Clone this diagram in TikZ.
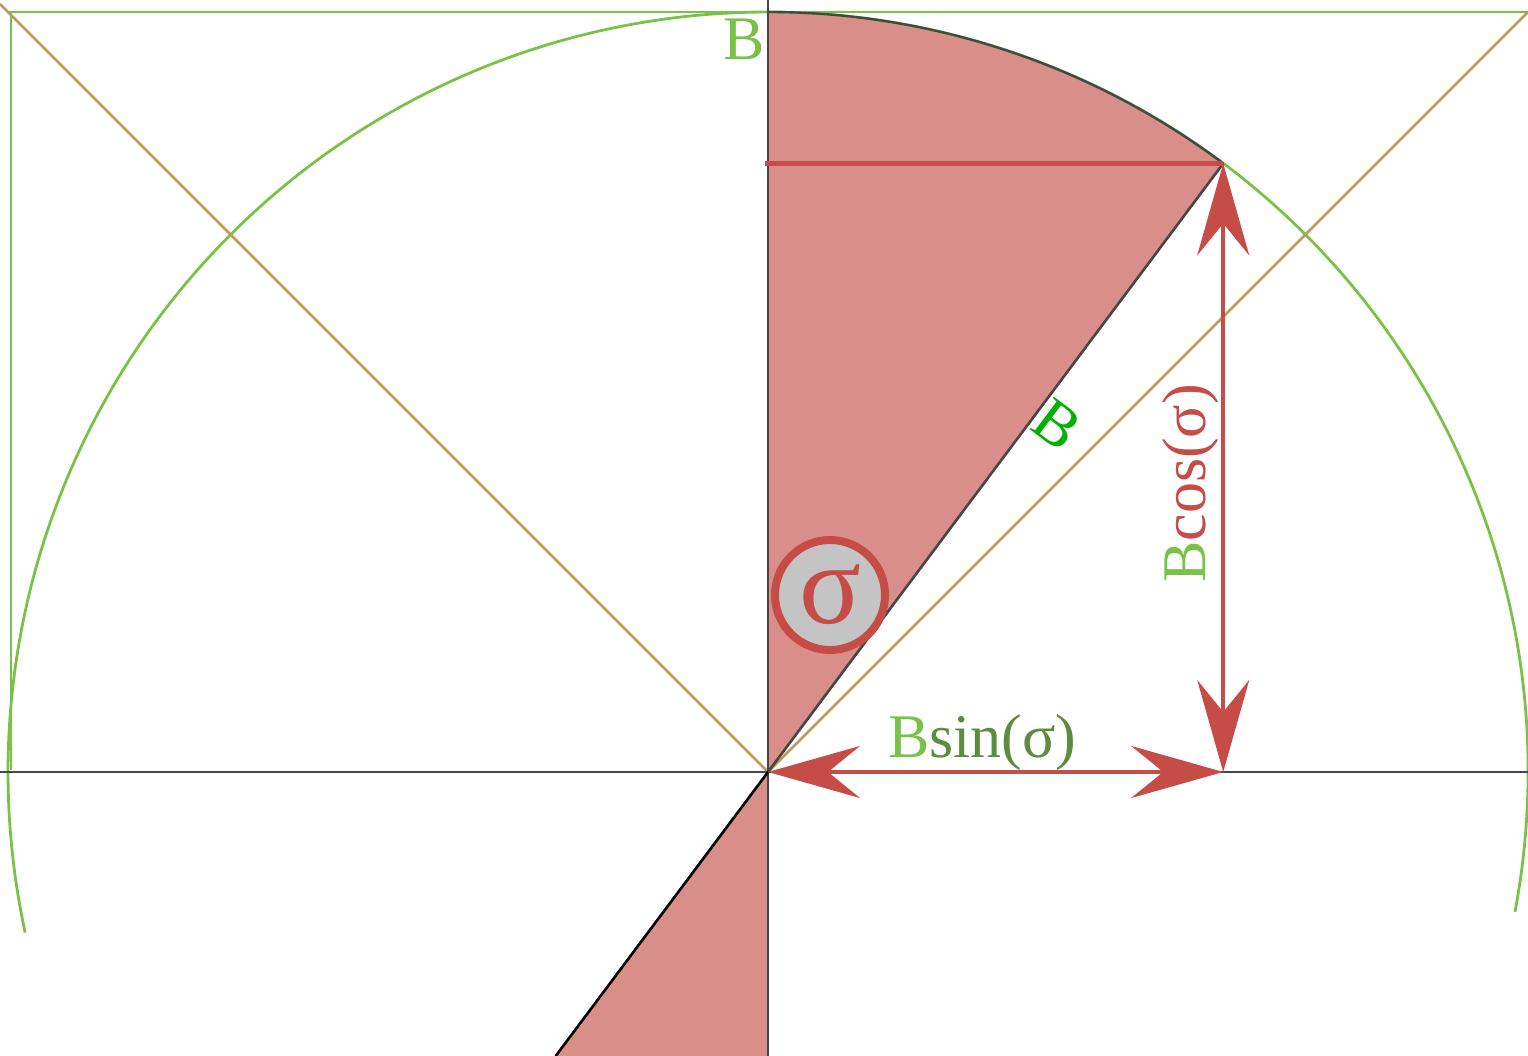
\documentclass[tikz,border=0pt]{standalone}
\usepackage{fontspec}
\setmainfont{Liberation Serif}
\usetikzlibrary{arrows.meta,calc}
\definecolor{sectorfill}{RGB}{217,142,138}
\definecolor{arrowred}{RGB}{198,77,71}
\definecolor{greenline}{RGB}{122,193,72}
\definecolor{tanline}{RGB}{186,156,92}
\definecolor{axisgray}{RGB}{70,70,70}
\definecolor{sgray}{RGB}{196,196,196}
\definecolor{brightgreen}{RGB}{0,178,0}
\definecolor{darkgreen}{RGB}{92,140,62}
\begin{document}
\begin{tikzpicture}[x=1pt,y=1pt,
  greenstroke/.style={draw=greenline,line width=2.8pt},
  tanstroke/.style={draw=tanline,line width=2.5pt},
  axisstroke/.style={draw=axisgray,line width=2.8pt},
  radius line/.style={draw=axisgray,line width=2.6pt},
  redline/.style={draw=arrowred,line width=4.5pt},
  dblarrow/.style={draw=arrowred,fill=arrowred,line width=4.5pt,
     {Stealth[length=92pt,width=52pt,inset=32pt]}-{Stealth[length=92pt,width=52pt,inset=32pt]}},
  lbl/.style={inner sep=0pt,font=\fontsize{62}{70}\selectfont},
]
\useasboundingbox (-768,-284) rectangle (760,772);
% key points
\coordinate (O) at (0,0);
\coordinate (T) at (0,760);
\coordinate (Ttop) at (0,772);
\coordinate (P) at (53.2:760);
\coordinate (Q) at (-212.3,-284);
\coordinate (Bot) at (0,-284);
\coordinate (H) at ($(P -| O)+(-3,0)$);
\coordinate (Px) at (P |- O);
\coordinate (TL) at (-757,760);
\coordinate (LB) at (-757,2);
\coordinate (TLx) at (-760,760);
\coordinate (TR) at (760,760);
\coordinate (DL) at (-768,768);
\coordinate (AL) at (-768,0);
\coordinate (AR) at (760,0);
\coordinate (ArcA) at (-10.6:760);
% filled sector and lower triangle
\fill[sectorfill] (O) -- (T) arc[start angle=90,end angle=53.2,radius=760] -- cycle;
\fill[sectorfill] (O) -- (Q) -- (Bot) -- cycle;
% green frame and circle
\draw[greenstroke] (LB) -- (TL);
\draw[greenstroke] (TLx) -- (TR);
\draw[greenstroke] (ArcA) arc[start angle=-10.6,end angle=192.2,radius=760];
% tan diagonals
\draw[tanstroke] (DL) -- (O) -- (TR);
% axes
\draw[axisstroke] (AL) -- (AR);
\draw[axisstroke] (Ttop) -- (Bot);
% radius line and its extension
\draw[radius line] (O) -- (P);
\draw[draw=black,line width=2.6pt] (O) -- (Q);
\draw[draw=axisgray,line width=2.4pt] (T) arc[start angle=90,end angle=53.2,radius=760];
% red horizontal line
\draw[redline] (H) -- (P);
% double arrows
\draw[dblarrow] (O) -- (Px);
\draw[dblarrow] (P) -- (Px);
% sigma badge
\node[circle,draw=arrowred,line width=8pt,fill=sgray,minimum size=110pt,inner sep=0pt,
      text=arrowred,font=\fontsize{115}{120}\selectfont] (sig) at (62,177) {σ};
% labels
\node[lbl,text=greenline,anchor=base east] (lblTop) at (-3,712) {B};
\node[lbl,anchor=base west] (lblSin) at (120,14) {\textcolor{greenline}{B}\textcolor{darkgreen}{sin(σ)}};
\node[lbl,anchor=base west,rotate=90] (lblCos) at (437,189) {\textcolor{greenline}{B}\textcolor{arrowred}{cos(σ)}};
\node[lbl,text=brightgreen,rotate=-36.8,font=\fontsize{62}{66}\selectfont] (lblR) at (289,347) {B};
\end{tikzpicture}
\end{document}
